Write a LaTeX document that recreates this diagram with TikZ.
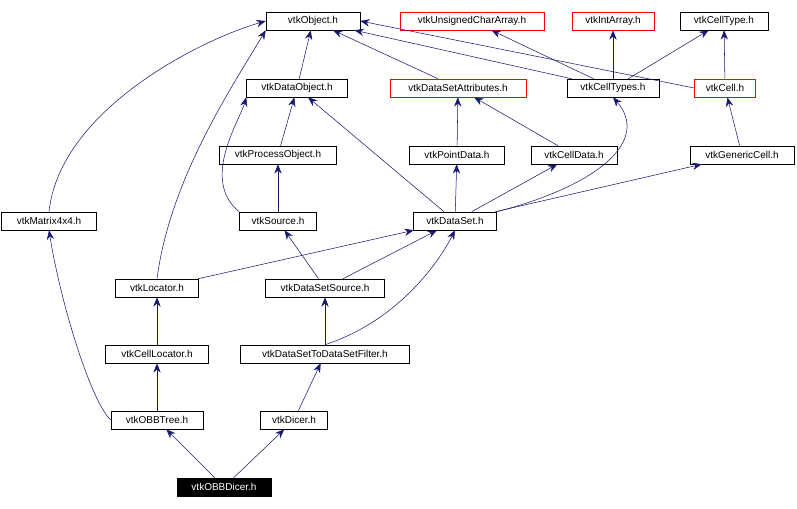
\documentclass[tikz,border=0pt]{standalone}
\usepackage{fontspec}
\setmainfont{Liberation Sans}
\usetikzlibrary{arrows.meta}
\definecolor{edge}{RGB}{25,25,112}
\begin{document}
\begin{tikzpicture}[x=0.75pt,y=-0.75pt,
  box/.style={draw=black,fill=white,inner sep=0pt,minimum height=13.5pt,font=\fontsize{7.5}{9}\selectfont},
  rbox/.style={box,draw=red},
  e/.style={draw=edge,-{Stealth[length=7pt,width=5.5pt]}},
  every node/.style={}]
\useasboundingbox (0,0) rectangle (797,509);
\def\bx#1#2#3#4#5{\node[#1,minimum width=#4*0.75pt] (#2) at (#3) {#5};}
\bx{box}{obj}{313,21}{94}{vtkObject.h}
\bx{rbox}{uca}{472,21}{144}{vtkUnsignedCharArray.h}
\bx{rbox}{ia}{613,21}{82}{vtkIntArray.h}
\bx{box}{ct}{724,21}{88}{vtkCellType.h}
\bx{box}{dobj}{297,88}{101}{vtkDataObject.h}
\bx{rbox}{dsa}{458,88}{136}{vtkDataSetAttributes.h}
\bx{box}{cts}{613,88}{92}{vtkCellTypes.h}
\bx{rbox}{cell}{725,88}{61}{vtkCell.h}
\bx{box}{po}{278,155}{117}{vtkProcessObject.h}
\bx{box}{pd}{457,155}{95}{vtkPointData.h}
\bx{box}{cd}{574,155}{86}{vtkCellData.h}
\bx{box}{gc}{742,155}{104}{vtkGenericCell.h}
\bx{box}{mat}{49,221}{95}{vtkMatrix4x4.h}
\bx{box}{src}{278,221}{77}{vtkSource.h}
\bx{box}{ds}{455,221}{83}{vtkDataSet.h}
\bx{box}{loc}{157,288}{83}{vtkLocator.h}
\bx{box}{dss}{325,288}{119}{vtkDataSetSource.h}
\bx{box}{cloc}{157,354}{103}{vtkCellLocator.h}
\bx{box}{dsf}{325,354}{169}{vtkDataSetToDataSetFilter.h}
\bx{box}{obb}{157,420}{92}{vtkOBBTree.h}
\bx{box}{dic}{294,420}{67}{vtkDicer.h}
\node[box,fill=black,text=white,minimum width=94*0.75pt] (od) at (224,487) {vtkOBBDicer.h};

\draw[e] (od) -- (obb);
\draw[e] (od) -- (dic);
\draw[e] (obb) -- (cloc);
\draw[e] (obb.west) .. controls (90,400) and (60,300) .. (mat.south);
\draw[e] (cloc) -- (loc);
\draw[e] (loc.north) .. controls (170,180) and (230,90) .. (obj.south west);
\draw[e] (loc) -- (ds);
\draw[e] (dic) -- (dsf);
\draw[e] (dsf) -- (dss);
\draw[e] (dsf.north) .. controls (400,320) and (440,260) .. (ds.south);
\draw[e] (dss) -- (src);
\draw[e] (dss) -- (ds);
\draw[e] (src) -- (po);
\draw[e] (src.north west) .. controls (200,180) and (240,120) .. (dobj.south west);
\draw[e] (po) -- (dobj);
\draw[e] (mat.north) .. controls (60,110) and (200,40) .. (obj.west);
\draw[e] (ds) -- (dobj);
\draw[e] (ds) -- (pd);
\draw[e] (ds) -- (cd);
\draw[e] (ds.north east) .. controls (600,185) and (650,140) .. (cts.south);
\draw[e] (ds) -- (gc);
\draw[e] (pd) -- (dsa);
\draw[e] (cd) -- (dsa);
\draw[e] (dsa) -- (obj);
\draw[e] (dobj) -- (obj);
\draw[e] (cts) -- (obj);
\draw[e] (cts) -- (uca);
\draw[e] (cts) -- (ia);
\draw[e] (cts) -- (ct);
\draw[e] (cell.west) -- (obj.east);
\draw[e] (cell) -- (ct);
\draw[e] (gc) -- (cell);
\end{tikzpicture}
\end{document}
